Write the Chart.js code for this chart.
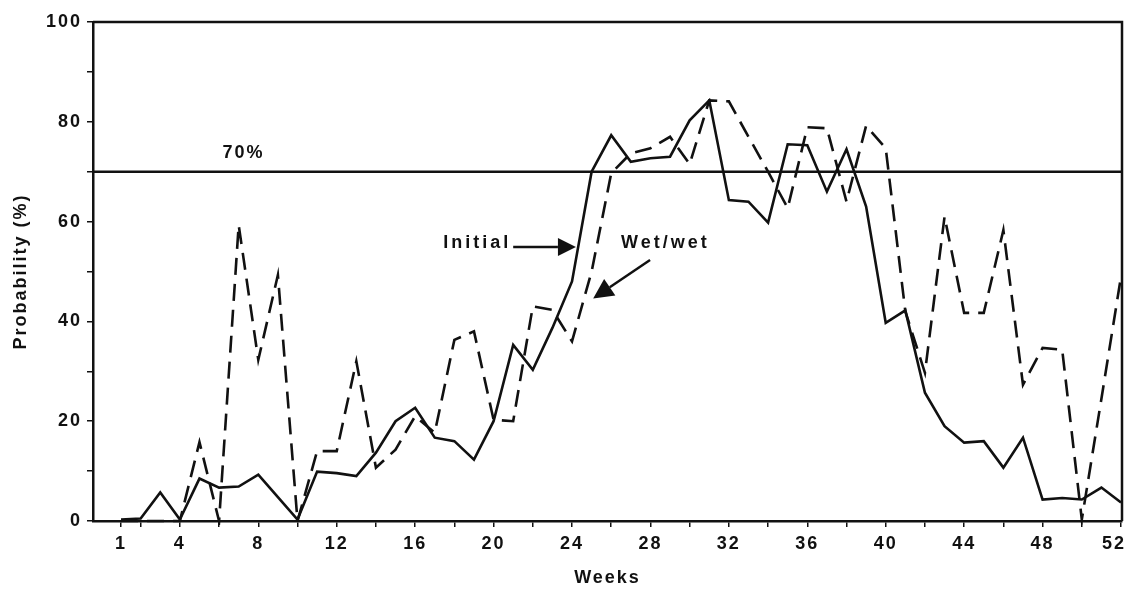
<!DOCTYPE html>
<html>
<head>
<meta charset="utf-8">
<script src="https://cdn.jsdelivr.net/npm/chart.js@4.4.0/dist/chart.umd.min.js"></script>
<style>
  html, body { margin: 0; padding: 0; background: #fff; }
  #wrap { width: 1126px; height: 589px; }
</style>
</head>
<body>
<div id="wrap"><canvas id="chart" width="1126" height="589"></canvas></div>
<script>
// Datos (semanas 1-52)
const weeks = [1, 2, 3, 4, 5, 6, 7, 8, 9, 10, 11, 12, 13, 14, 15, 16, 17, 18, 19, 20, 21, 22, 23, 24, 25, 26,
  27, 28, 29, 30, 31, 32, 33, 34, 35, 36, 37, 38, 39, 40, 41, 42, 43, 44, 45, 46, 47, 48, 49, 50, 51, 52];

const initial = [0.3, 0.5, 5.7, 0.3, 8.5, 6.7, 6.9, 9.3, 4.8, 0.3, 9.9, 9.6, 9.0, 13.7, 20, 22.7, 16.7, 16.0, 12.3, 20,
  35.3, 30.3, 38.7, 48, 70, 77.3, 72, 72.7, 73, 80.3, 84.3, 64.3, 64, 59.8, 75.5, 75.3, 66, 74.5, 63, 39.7,
  42.2, 25.7, 19, 15.7, 16, 10.7, 16.7, 4.3, 4.6, 4.3, 6.7, 3.7];

const wetWet = [0, 0, 0, 0, 15.8, 0, 59.3, 32.3, 49.3, 0, 14, 14, 32, 10.7, 14.3, 21, 17.7, 36.3, 38, 20.3,
  20, 43, 42.3, 36, 50, 69.7, 73.7, 74.7, 77, 71.5, 84.3, 84.1, 77, 70, 62.7, 78.9, 78.7, 64, 79.2, 74.7,
  42, 29.7, 61, 41.7, 41.7, 58.3, 27.3, 34.7, 34.3, 0.3, 24.5, 49];

const threshold = 70;
const xTickValues = [1, 2, 4, 6, 8, 10, 12, 14, 16, 18, 20, 22, 24, 26, 28, 30, 32, 34, 36, 38, 40, 42, 44, 46, 48, 50, 52];
const xTickLabels = [1, 4, 8, 12, 16, 20, 24, 28, 32, 36, 40, 44, 48, 52];
const yTickLabels = [0, 20, 40, 60, 80, 100];

const INK = '#111';
const FONT = 'Liberation Sans, Arial, sans-serif';

function toPoints(values) {
  return weeks.map((w, i) => ({ x: w, y: values[i] }));
}

// Espaciado de letras como en el original
const spacingPlugin = {
  id: 'spacing',
  beforeUpdate(chart) { chart.ctx.letterSpacing = '2px'; },
  beforeDraw(chart) {
    chart.ctx.letterSpacing = '2px';
    // la última etiqueta del eje X se alinea a la derecha para que no se corte
    const items = chart.scales.x.getLabelItems(chart.chartArea);
    const last = items[items.length - 1];
    if (last) {
      last.options.textAlign = 'right';
      last.options.translation[0] = chart.width;
    }
  }
};

function arrow(ctx, x1, y1, x2, y2, headLen, headHalf) {
  const ang = Math.atan2(y2 - y1, x2 - x1);
  const bx = x2 - headLen * Math.cos(ang);
  const by = y2 - headLen * Math.sin(ang);
  ctx.beginPath();
  ctx.moveTo(x1, y1);
  ctx.lineTo(bx, by);
  ctx.stroke();
  ctx.beginPath();
  ctx.moveTo(x2, y2);
  ctx.lineTo(bx + headHalf * Math.sin(ang), by - headHalf * Math.cos(ang));
  ctx.lineTo(bx - headHalf * Math.sin(ang), by + headHalf * Math.cos(ang));
  ctx.closePath();
  ctx.fill();
}

// Marco, línea del 70% y anotaciones
const annotationsPlugin = {
  id: 'annotations',
  afterDatasetsDraw(chart) {
    const { ctx, chartArea: a, scales: { x, y } } = chart;
    ctx.save();
    ctx.strokeStyle = INK;
    ctx.fillStyle = INK;
    ctx.lineWidth = 2.5;

    // marco superior y derecho
    ctx.beginPath();
    ctx.moveTo(a.left, a.top);
    ctx.lineTo(a.right, a.top);
    ctx.lineTo(a.right, a.bottom);
    ctx.stroke();

    // línea horizontal del umbral
    const ty = y.getPixelForValue(threshold);
    ctx.beginPath();
    ctx.moveTo(a.left, ty);
    ctx.lineTo(a.right, ty);
    ctx.stroke();

    ctx.letterSpacing = '2px';
    ctx.font = 'bold 18px ' + FONT;
    ctx.textBaseline = 'middle';
    ctx.textAlign = 'center';
    ctx.fillText(threshold + '%', x.getPixelForValue(7.25), y.getPixelForValue(73.8));

    ctx.letterSpacing = '3px';
    ctx.textAlign = 'right';
    ctx.fillText('Initial', x.getPixelForValue(20.9), y.getPixelForValue(55.7));
    ctx.textAlign = 'left';
    ctx.fillText('Wet/wet', x.getPixelForValue(26.5), y.getPixelForValue(55.7));

    ctx.lineWidth = 2.5;
    arrow(ctx, x.getPixelForValue(21.0), y.getPixelForValue(54.9),
      x.getPixelForValue(24.2), y.getPixelForValue(54.9), 18, 9);
    arrow(ctx, x.getPixelForValue(27.98), y.getPixelForValue(52.3),
      x.getPixelForValue(25.08), y.getPixelForValue(44.6), 20, 10);
    ctx.restore();
  }
};

const ctx = document.getElementById('chart').getContext('2d');

new Chart(ctx, {
  type: 'line',
  data: {
    datasets: [
      {
        label: 'Initial',
        data: toPoints(initial),
        borderColor: INK,
        borderWidth: 2.6,
        pointRadius: 0,
        tension: 0,
        clip: 4
      },
      {
        label: 'Wet/wet',
        data: toPoints(wetWet),
        borderColor: INK,
        borderWidth: 2.6,
        borderDash: [17, 9],
        pointRadius: 0,
        tension: 0,
        clip: 4
      }
    ]
  },
  options: {
    responsive: false,
    animation: false,
    devicePixelRatio: 1,
    layout: { padding: { top: 22, right: 4, bottom: 0, left: 0 } },
    plugins: {
      legend: { display: false },
      tooltip: { enabled: false }
    },
    scales: {
      x: {
        type: 'linear',
        min: -0.43,
        max: 52.05,
        afterBuildTicks: (scale) => {
          scale.ticks = xTickValues.map(v => ({ value: v }));
        },
        afterFit: (scale) => {
          scale.height = 68;
          scale.paddingLeft = 0;
          scale.paddingRight = 0;
        },
        grid: { drawOnChartArea: false, drawTicks: true, tickLength: 6, color: INK, lineWidth: 1.5 },
        border: { color: INK, width: 2.5 },
        ticks: {
          color: INK,
          font: { family: FONT, size: 18, weight: 'bold' },
          padding: 6,
          maxRotation: 0,
          autoSkip: false,
          callback: (v) => xTickLabels.includes(v) ? String(v) : ''
        },
        title: {
          display: true,
          text: 'Weeks',
          color: INK,
          font: { family: FONT, size: 18, weight: 'bold' },
          padding: { top: 0, bottom: 0 }
        }
      },
      y: {
        min: 0,
        max: 100,
        afterFit: (scale) => {
          scale.width = 93;
          scale.paddingTop = 0;
          scale.paddingBottom = 0;
        },
        grid: { drawOnChartArea: false, drawTicks: true, tickLength: 6, color: INK, lineWidth: 1.5 },
        border: { color: INK, width: 2.5 },
        ticks: {
          stepSize: 10,
          color: INK,
          font: { family: FONT, size: 18, weight: 'bold' },
          padding: 5,
          callback: (v) => yTickLabels.includes(v) ? String(v) : ''
        },
        title: {
          display: true,
          text: 'Probability (%)',
          color: INK,
          font: { family: FONT, size: 18, weight: 'bold' },
          padding: { top: 10, bottom: 0 }
        }
      }
    }
  },
  plugins: [spacingPlugin, annotationsPlugin]
});
</script>
</body>
</html>
